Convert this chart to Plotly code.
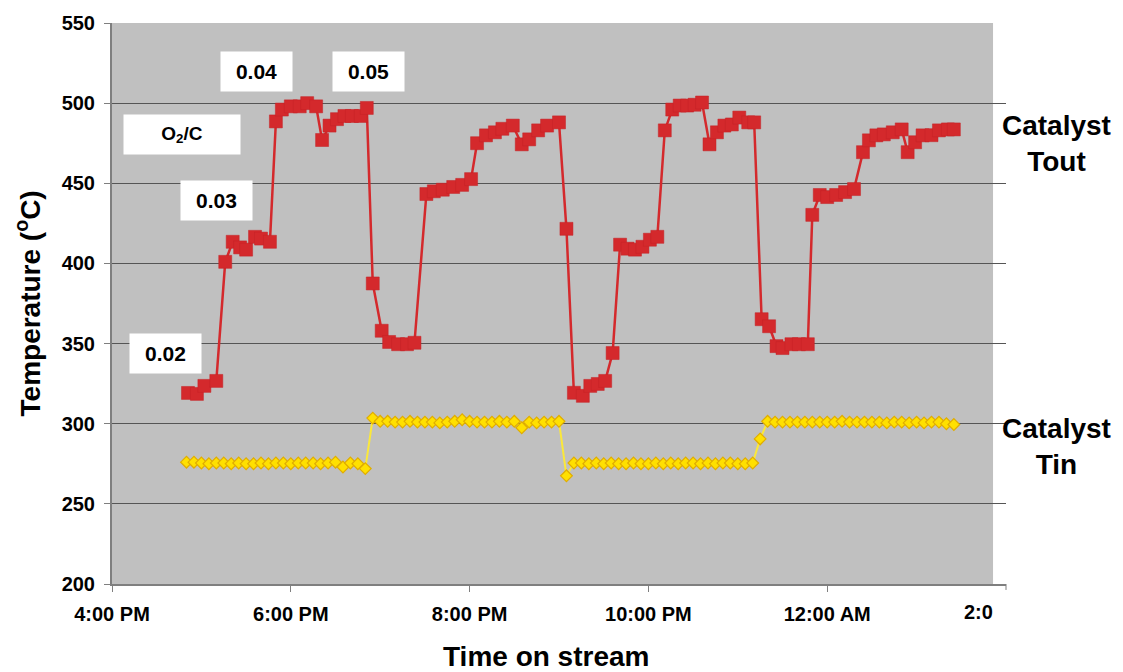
import pandas as pd
import plotly.graph_objects as go

# ---------------- data ----------------
base = pd.Timestamp("2008-01-01 16:00")

# Catalyst Tout (red squares): minutes after 4:00 PM, temperature (°C)
tout_minutes = [51, 57, 62, 70, 76, 81, 86, 90, 96, 100,
                106, 110, 114, 120, 126, 131, 137, 141, 146, 151,
                156, 161, 167, 171, 175, 181, 186, 192, 198, 203,
                211, 216, 222, 229, 235, 241, 245, 251, 257, 262,
                269, 275, 280, 286, 292, 300, 305, 310, 316, 321,
                326, 331, 336, 341, 346, 351, 356, 361, 366, 371,
                376, 381, 386, 391, 396, 401, 406, 411, 416, 421,
                427, 431, 436, 441, 446, 450, 456, 461, 467, 470,
                475, 480, 486, 492, 498, 504, 508, 513, 518, 524,
                530, 534, 539, 544, 550, 555, 561, 565]
tout_values = [319.2, 318.6, 323.6, 326.7, 401.0, 413.5, 410.0, 408.6, 416.6, 415.5,
               413.5, 488.6, 496.0, 498.0, 498.0, 500.0, 498.0, 477.0, 486.0, 490.0,
               492.0, 492.0, 492.0, 497.0, 387.5, 358.0, 351.0, 349.6, 349.6, 350.5,
               443.3, 445.0, 446.0, 447.7, 449.0, 452.6, 475.0, 479.9, 481.8, 484.0,
               486.0, 474.3, 477.4, 483.0, 486.0, 488.0, 421.6, 319.3, 317.4, 323.6,
               324.8, 326.7, 344.1, 411.7, 409.2, 408.6, 410.4, 414.8, 416.6, 483.0,
               496.0, 498.5, 498.5, 499.0, 500.4, 474.3, 481.8, 486.0, 486.7, 491.0,
               488.0, 488.0, 365.2, 360.8, 348.4, 347.2, 349.6, 349.6, 349.6, 430.3,
               442.7, 441.4, 442.7, 444.5, 446.4, 469.4, 476.8, 479.9, 480.5, 481.8,
               483.6, 469.4, 475.6, 479.9, 480.0, 483.0, 483.6, 483.6]

# Catalyst Tin (yellow diamonds): sampled every 5 min from 4:50 PM
tin_minutes = list(range(50, 570, 5))
tin_values = [276.0, 276.0, 275.5, 275.0, 275.5, 275.5, 275.0, 275.5, 275.0, 275.0,
              275.5, 275.0, 275.5, 275.5, 275.0, 275.5, 275.5, 275.5, 275.0, 275.5,
              276.0, 273.0, 275.5, 275.0, 272.0,
              303.5, 301.5, 301.5, 301.0, 301.0, 301.5, 301.0, 301.0, 301.0, 300.5,
              301.0, 301.5, 302.5, 301.5, 301.0, 301.0, 301.0, 301.5, 301.0, 301.5,
              297.5, 301.0, 300.5, 301.0, 301.0, 301.5,
              267.5,
              275.5, 275.5, 275.0, 275.5, 275.0, 275.5, 275.0, 275.0, 275.5, 275.0,
              275.0, 275.5, 275.0, 275.5, 275.0, 275.5, 275.5, 275.0, 275.5, 275.0,
              275.5, 275.5, 275.0, 275.0, 275.5,
              290.5,
              301.5, 301.0, 301.0, 301.0, 301.0, 301.0, 301.0, 301.0, 301.0, 301.0,
              301.5, 301.0, 301.0, 301.0, 301.0, 301.0, 300.5, 301.0, 301.0, 300.5,
              301.0, 300.5, 301.0, 301.0, 300.0, 299.5]

# O2/C ratio labels: (minutes after 4 PM, temperature position, text)
ratio_minutes = [36, 70, 97, 172]
ratio_temps = [344, 439, 520, 520]
ratio_labels = ["0.02", "0.03", "0.04", "0.05"]

tick_hours = [0, 2, 4, 6, 8]
tick_labels = ["4:00 PM", "6:00 PM", "8:00 PM", "10:00 PM", "12:00 AM"]

# ---------------- figure ----------------
def to_time(mins):
    return base + pd.to_timedelta(mins, unit="m")

FONT = "Liberation Sans, Arial, sans-serif"
RED = "#d4292c"
AXIS = "#7f7f7f"

fig = go.Figure()
fig.add_trace(go.Scatter(
    x=to_time(tin_minutes), y=tin_values, mode="lines+markers",
    name="Catalyst Tin",
    line=dict(color="#fbe83a", width=2),
    marker=dict(symbol="diamond", size=9, color="#ffe000",
                line=dict(color="#e0ad00", width=1.2)),
))
fig.add_trace(go.Scatter(
    x=to_time(tout_minutes), y=tout_values, mode="lines+markers",
    name="Catalyst Tout",
    line=dict(color=RED, width=2.5),
    marker=dict(symbol="square", size=13, color=RED,
                line=dict(color="#c42226", width=0.5)),
))

annotations = []
for m, t, lab in zip(ratio_minutes, ratio_temps, ratio_labels):
    annotations.append(dict(
        x=to_time(m), y=t, xref="x", yref="y", text=lab, showarrow=False,
        font=dict(family=FONT, size=21, color="black", weight="bold"),
        bgcolor="white", width=71, height=39, borderpad=0,
    ))
annotations.append(dict(
    x=to_time(47), y=480.5, xref="x", yref="y", text="O<sub>2</sub>/C", showarrow=False,
    font=dict(family=FONT, size=19, color="black", weight="bold"),
    bgcolor="white", width=116, height=39, borderpad=0,
))
# right-hand series labels
annotations.append(dict(
    x=1.057, y=475, xref="paper", yref="y", text="Catalyst<br>Tout", showarrow=False,
    font=dict(family=FONT, size=28, color="black", weight="bold"),
    xanchor="center", yanchor="middle",
))
annotations.append(dict(
    x=1.057, y=286, xref="paper", yref="y", text="Catalyst<br>Tin", showarrow=False,
    font=dict(family=FONT, size=28, color="black", weight="bold"),
    xanchor="center", yanchor="middle",
))
# axis titles
annotations.append(dict(
    x=0.485, y=-0.129, xref="paper", yref="paper", text="Time on stream", showarrow=False,
    font=dict(family=FONT, size=28, color="black", weight="bold"),
    xanchor="center", yanchor="middle",
))
annotations.append(dict(
    x=-0.094, y=0.5, xref="paper", yref="paper", text="Temperature (<sup>o</sup>C)",
    showarrow=False, textangle=-90,
    font=dict(family=FONT, size=28, color="black", weight="bold"),
    xanchor="center", yanchor="middle",
))
# truncated last tick label (cut off at the picture's edge)
annotations.append(dict(
    x=0.9877, y=-0.05, xref="paper", yref="paper", text="2:0", showarrow=False,
    font=dict(family=FONT, size=20, color="black", weight="bold"),
    xanchor="right", yanchor="middle",
))

fig.update_layout(
    width=1123, height=672,
    margin=dict(l=112, r=117, t=20, b=88),
    paper_bgcolor="white", plot_bgcolor="#c0c0c0",
    showlegend=False,
    annotations=annotations,
    shapes=[
        dict(type="rect", xref="paper", yref="paper", x0=0.9855, x1=1.0,
             y0=0, y1=1, fillcolor="white", line=dict(width=0), layer="below"),
        # tick mark for 2:00 AM
        dict(type="line", xref="paper", yref="paper", x0=1.0, x1=1.0,
             y0=0, y1=-0.0106, line=dict(color=AXIS, width=1)),
    ],
)
fig.update_xaxes(
    type="date",
    range=[base, base + pd.Timedelta(hours=10)],
    tickvals=[base + pd.Timedelta(hours=h) for h in tick_hours],
    ticktext=tick_labels,
    showgrid=False, zeroline=False,
    showline=True, linecolor=AXIS, linewidth=2,
    ticks="outside", ticklen=6, tickcolor=AXIS, tickwidth=1,
    tickfont=dict(family=FONT, size=20, color="black", weight="bold"),
    ticklabelstandoff=5,
)
fig.update_yaxes(
    range=[200, 550], tick0=200, dtick=50,
    showgrid=True, gridcolor="#555555", gridwidth=1, zeroline=False,
    showline=True, linecolor=AXIS, linewidth=2,
    ticks="outside", ticklen=6, tickcolor=AXIS, tickwidth=1,
    tickfont=dict(family=FONT, size=20, color="black", weight="bold"),
    ticklabelstandoff=5,
)

fig.write_html("out.html")
